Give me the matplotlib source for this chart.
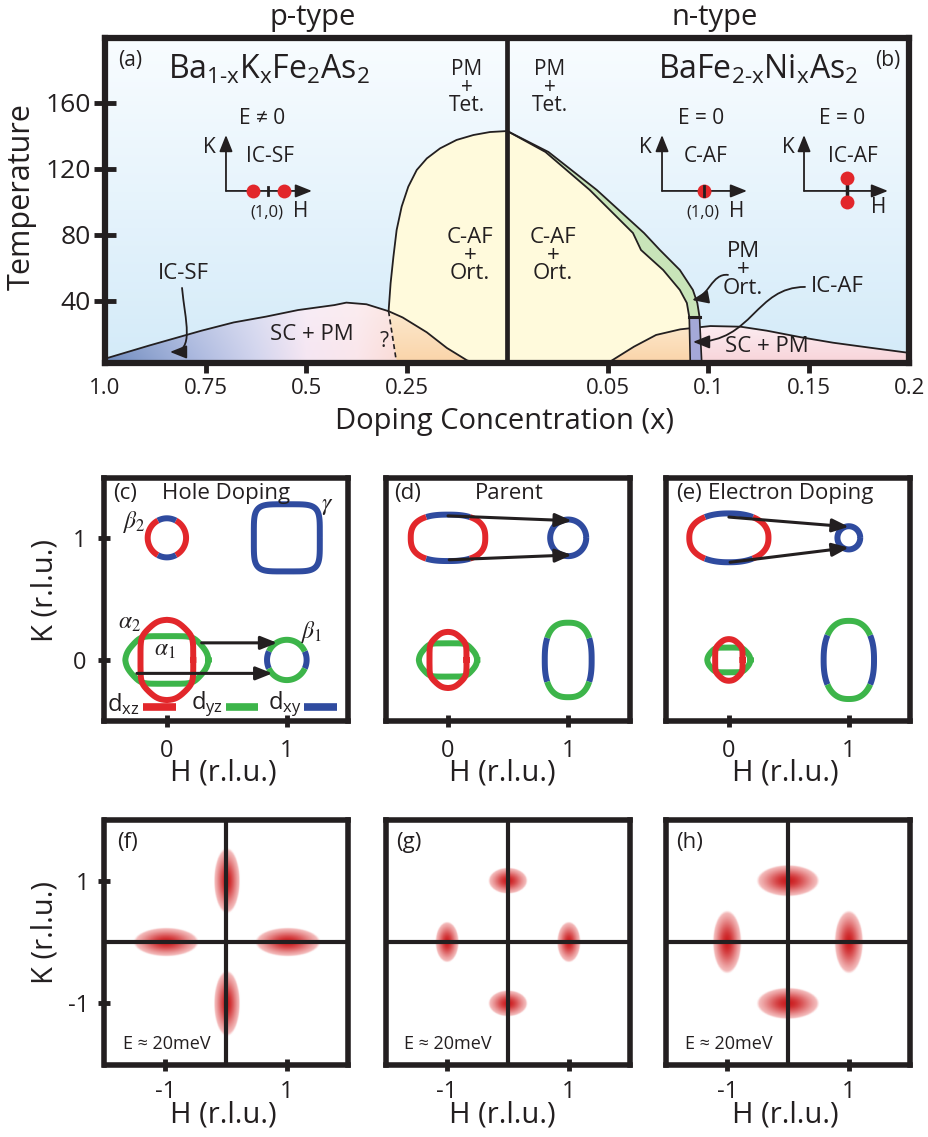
import numpy as np
import matplotlib.pyplot as plt
from matplotlib.patches import Polygon, FancyArrowPatch
from matplotlib.path import Path
from matplotlib.colors import LinearSegmentedColormap

plt.rcParams['font.family'] = ['Open Sans', 'DejaVu Sans']
plt.rcParams['mathtext.fontset'] = 'custom'
plt.rcParams['mathtext.rm'] = 'Open Sans'
plt.rcParams['mathtext.it'] = 'Open Sans:italic'
plt.rcParams['axes.unicode_minus'] = False

# ---------------- phase diagram (doping x, temperature K) ----------------
# Ba(1-x)K(x)Fe2As2 superconducting dome
p_sc_x = [1.0, 0.89, 0.76, 0.68, 0.60, 0.52, 0.43, 0.40, 0.35, 0.295, 0.26, 0.20, 0.15, 0.10, 0.08]
p_sc_T = [5.0, 13.0, 22.0, 27.0, 30.5, 34.5, 37.5, 39.0, 38.0, 33.8, 30.0, 21.0, 11.5, 4.0, 2.4]
# hole side AF / orthorhombic boundary (solid) and its guess below Tc (dashed)
p_af_x = [0.295, 0.290, 0.283, 0.275, 0.2625, 0.246, 0.225, 0.200, 0.167, 0.126, 0.084, 0.043, 0.0]
p_af_T = [33.8, 50.7, 66.8, 83.0, 97.2, 109.3, 119.4, 126.4, 132.5, 137.6, 140.6, 142.4, 143.0]
p_dash_x = [0.295, 0.275]
p_dash_T = [33.8, 2.4]
# BaFe(2-x)Ni(x)As2: TN and Ts lines share temperatures
n_t_T = [143.0, 130.3, 107.3, 81.2, 70.9, 58.8, 46.7, 38.8, 30.3]
n_tn_x = [0.0, 0.019, 0.041, 0.0625, 0.0665, 0.0775, 0.0858, 0.0893, 0.0905]
n_ts_x = [0.0, 0.0205, 0.0445, 0.068, 0.0759, 0.0858, 0.0923, 0.0945, 0.0956]
n_icaf_x = [0.0905, 0.0956, 0.0967, 0.0910]
n_icaf_T = [30.3, 30.3, 2.4, 2.4]
n_sc_x = [0.05, 0.063, 0.074, 0.086, 0.101, 0.116, 0.129, 0.146, 0.162, 0.179, 0.2]
n_sc_T = [2.4, 12.3, 19.4, 22.8, 24.8, 24.4, 22.0, 18.0, 14.7, 11.9, 8.5]

p_ticks = [1.0, 0.75, 0.5, 0.25]
n_ticks = [0.05, 0.1, 0.15, 0.2]
T_ticks = [40, 80, 120, 160]

# ---------------- spin-excitation blobs (H, K, half widths) ----------------
blob_H = [-1, 1, 0, 0]
blob_K = [0, 0, 1, -1]
f_wH = [0.50, 0.50, 0.20, 0.20]
f_wK = [0.22, 0.22, 0.50, 0.50]
g_wH = [0.18, 0.18, 0.30, 0.30]
g_wK = [0.31, 0.31, 0.20, 0.20]
h_wH = [0.22, 0.22, 0.48, 0.48]
h_wK = [0.48, 0.48, 0.24, 0.24]

K = '#231f20'
RED = '#e2272b'
GREEN = '#3db54a'
BLUE = '#2f4b9f'
YELLOW = '#fffadc'
LGREEN = '#c8e4b9'
PURPLE = '#a4a8d8'

W, H = 929, 1137
fig = plt.figure(figsize=(W / 100, H / 100), dpi=100)


def pix_axes(x0, y0, x1, y1):
    return fig.add_axes([x0 / W, 1 - y1 / H, (x1 - x0) / W, (y1 - y0) / H])


def pix_text(x, y, s, **kw):
    kw.setdefault('ha', 'center')
    kw.setdefault('va', 'center')
    return fig.text(x / W, 1 - y / H, s, color=K, **kw)


def p2u(x):
    return 4 * (1 - np.asarray(x, float))


def n2u(x):
    return 4 + 20 * np.asarray(x, float)


def gradient(stops, colors, t):
    colors = np.asarray(colors)
    return np.stack([np.interp(t, stops, colors[:, k]) for k in range(3)], axis=-1)


# ======================= (a)/(b) phase diagram =======================
ax = pix_axes(105, 37.5, 909.5, 363)
T0, T1 = 2.4, 199.7

bg = gradient([0, 1], [(0.83, 0.92, 0.975), (0.975, 0.99, 1.0)], np.linspace(0, 1, 200))[:, None, :]
ax.imshow(bg, extent=(0, 8, T0, T1), origin='lower', aspect='auto', zorder=0)

# AF (yellow) region spanning both sides
yu = np.concatenate([[p2u(0.275)], p2u(p_af_x), n2u(n_tn_x), [n2u(0.091)]])
yT = np.concatenate([[2.4], p_af_T, n_t_T, [2.4]])
ax.fill(yu, yT, color=YELLOW, lw=0, zorder=1)
# structural-only strip (green)
gu = np.concatenate([n2u(n_tn_x), n2u(n_ts_x)[::-1]])
gT = np.concatenate([n_t_T, n_t_T[::-1]])
ax.fill(gu, gT, color=LGREEN, lw=0, zorder=1)

# hole side dome, coloured by region
uu = np.linspace(0, 4, 500)
tt = np.linspace(T0, 40, 120)
U, TT = np.meshgrid(uu, tt)
sc_base = gradient([0, 0.8, 1.5, 2.0, 2.5, 2.9],
                   [(0.43, 0.54, 0.74), (0.64, 0.70, 0.86), (0.82, 0.83, 0.93),
                    (0.96, 0.90, 0.95), (0.98, 0.90, 0.92), (0.98, 0.86, 0.84)], U)
lift = ((TT - T0) / 38.0 * 0.3)[..., None]
sc_col = sc_base * (1 - lift) + lift
orange = gradient([T0, 36], [(0.98, 0.83, 0.66), (0.99, 0.92, 0.82)], TT)
dash_u = np.interp(TT, [2.4, 33.8], [p2u(0.275), p2u(0.295)])
img = np.where((U < dash_u)[..., None], sc_col, orange)
im = ax.imshow(img, extent=(0, 4, T0, 40), origin='lower', aspect='auto', zorder=1.5)
im.set_clip_path(Polygon(np.column_stack([np.r_[0, p2u(p_sc_x)], np.r_[2.4, p_sc_T]]),
                         closed=True, transform=ax.transData))

# electron side dome
uu = np.linspace(4.8, 8, 400)
tt = np.linspace(T0, 27, 100)
U, TT = np.meshgrid(uu, tt)
pink = gradient([T0, 26], [(0.97, 0.83, 0.85), (0.99, 0.93, 0.95)], TT)
orange = gradient([T0, 26], [(0.98, 0.83, 0.66), (0.99, 0.91, 0.80)], TT)
img = np.where((U < n2u(0.093))[..., None], orange, pink)
im = ax.imshow(img, extent=(4.8, 8, T0, 27), origin='lower', aspect='auto', zorder=1.5)
im.set_clip_path(Polygon(np.column_stack([np.r_[n2u(n_sc_x), 8], np.r_[n_sc_T, 2.4]]),
                         closed=True, transform=ax.transData))
ax.plot(n2u(n_sc_x), n_sc_T, color=K, lw=1.3, zorder=1.55)

# incommensurate AF sliver
ax.fill(n2u(n_icaf_x), n_icaf_T, color=PURPLE, lw=0, zorder=1.6)
ax.plot(n2u([n_icaf_x[0], n_icaf_x[3]]), [n_icaf_T[0], n_icaf_T[3]], color=K, lw=1.2, zorder=2)
ax.plot(n2u([n_icaf_x[1], n_icaf_x[2]]), [n_icaf_T[1], n_icaf_T[2]], color=K, lw=1.2, zorder=2)
ax.plot(n2u(n_icaf_x[:2]), n_icaf_T[:2], color=K, lw=2.2, zorder=2)

# phase boundaries
ax.plot(p2u(p_sc_x), p_sc_T, color=K, lw=1.3, zorder=2)
ax.plot(p2u(p_af_x), p_af_T, color=K, lw=1.3, zorder=2)
ax.plot(p2u(p_dash_x), p_dash_T, color=K, lw=1.2, ls=(0, (3, 2)), zorder=2)
ax.plot(n2u(n_tn_x), n_t_T, color=K, lw=1.3, zorder=2)
ax.plot(n2u(n_ts_x), n_t_T, color=K, lw=1.3, zorder=2)
ax.axvline(4, color=K, lw=3.4, zorder=2.5)

ax.set_xlim(0, 8)
ax.set_ylim(T0, T1)
ax.set_xticks(np.r_[p2u(p_ticks), n2u(n_ticks)],
              [str(v) for v in p_ticks] + [str(v) for v in n_ticks])
ax.tick_params(axis='x', direction='out', length=7, width=3.5, pad=4, labelsize=16,
               color=K, labelcolor=K)
for i in (0, 7):
    ax.xaxis.get_major_ticks()[i].tick1line.set_visible(False)
ax.set_yticks(T_ticks)
ax.tick_params(axis='y', direction='inout', length=16, width=3.5, pad=2, labelsize=19,
               color=K, labelcolor=K)
for s in ax.spines.values():
    s.set_linewidth(4.5)
    s.set_color(K)
    s.set_zorder(3)

txt = dict(color=K, ha='center', va='center', zorder=4)
stack = dict(color=K, ha='center', va='center', multialignment='center', linespacing=0.82, zorder=4)
ax.text(0.249, 186, '(a)', fontsize=15, **txt)
ax.text(7.786, 186, '(b)', fontsize=15, **txt)
ax.text(0.627, 175, r'$\mathregular{Ba_{1\text{-}x}K_xFe_2As_2}$', fontsize=23, color=K,
        ha='left', va='baseline')
ax.text(5.499, 175, r'$\mathregular{BaFe_{2\text{-}x}Ni_xAs_2}$', fontsize=23, color=K,
        ha='left', va='baseline')
for u in (3.6, 4.425):
    ax.text(u, 169.5, 'PM\n+\nTet.', fontsize=15, **stack)
for u in (3.63, 4.455):
    ax.text(u, 67.5, 'C-AF\n+\nOrt.', fontsize=16, **stack)
ax.text(6.344, 58.8, 'PM\n+\nOrt.', fontsize=16, **stack)
ax.text(7.279, 48.5, 'IC-AF', fontsize=16, **txt)
ax.text(0.776, 56.4, 'IC-SF', fontsize=16, **txt)
ax.text(2.058, 19.4, 'SC + PM', fontsize=16, **txt)
ax.text(6.583, 12.1, 'SC + PM', fontsize=16, **txt)
ax.text(2.774, 15.2, '?', fontsize=15, **txt)

ARROW = dict(arrowstyle='-|>,head_length=0.5,head_width=0.2', color=K, lw=1.3,
             shrinkA=0, shrinkB=0, mutation_scale=20)


def q_axes(ox, oy, top, right):
    ax.annotate('', xy=(ox, top), xytext=(ox, oy), arrowprops=ARROW, zorder=3)
    ax.annotate('', xy=(right, oy), xytext=(ox, oy), arrowprops=ARROW, zorder=3)


# momentum-space sketches
q_axes(1.203, 106.7, 140.6, 2.058)
ax.text(1.561, 150.3, 'E ≠ 0', fontsize=15, **txt)
ax.text(1.034, 133.3, 'K', fontsize=15, **txt)
ax.text(1.641, 127.3, 'IC-SF', fontsize=15, **txt)
ax.plot([1.621, 1.621], [104.2, 109.2], color=K, lw=2, zorder=4)
ax.plot([1.472, 1.78], [106.7, 106.7], 'o', ms=10, color=RED, mec='none', zorder=4)
ax.text(1.611, 93.9, '(1,0)', fontsize=12, **txt)
ax.text(1.949, 94.5, 'H', fontsize=15, **txt)

q_axes(5.539, 106.7, 140.6, 6.384)
ax.text(5.927, 150.3, 'E = 0', fontsize=15, **txt)
ax.text(5.370, 133.3, 'K', fontsize=15, **txt)
ax.text(5.977, 127.3, 'C-AF', fontsize=15, **txt)
ax.plot([5.957], [106.7], 'o', ms=10, color=RED, mec='none', zorder=4)
ax.plot([5.957, 5.957], [103.7, 109.7], color=K, lw=2, zorder=4)
ax.text(5.947, 93.9, '(1,0)', fontsize=12, **txt)
ax.text(6.285, 94.5, 'H', fontsize=15, **txt)

q_axes(6.951, 106.7, 140.6, 7.786)
ax.text(7.329, 150.3, 'E = 0', fontsize=15, **txt)
ax.text(6.792, 133.3, 'K', fontsize=15, **txt)
ax.text(7.438, 127.3, 'IC-AF', fontsize=15, **txt)
ax.plot([7.379, 7.379], [100, 114.5], color=K, lw=2.5, zorder=4)
ax.plot([7.379, 7.379], [114.5, 100], 'o', ms=10, color=RED, mec='none', zorder=4)
ax.text(7.697, 96.4, 'H', fontsize=15, **txt)


def bent_arrow(pts):
    path = Path(pts, [Path.MOVETO, Path.CURVE4, Path.CURVE4, Path.CURVE4])
    ax.add_patch(FancyArrowPatch(path=path, arrowstyle='-|>,head_length=0.5,head_width=0.2',
                                 mutation_scale=20, lw=1.3, color=K, zorder=3))


bent_arrow([(0.766, 47.9), (0.796, 28.5), (0.895, 9.1), (0.646, 9.1)])
bent_arrow([(6.195, 55.8), (6.036, 57.0), (5.997, 42.4), (5.837, 40.6)])
bent_arrow([(6.961, 48.5), (6.464, 48.5), (6.444, 15.2), (5.847, 15.2)])

pix_text(313, 17, 'p-type', fontsize=21)
pix_text(715, 17, 'n-type', fontsize=21)
pix_text(22, 197, 'Temperature', fontsize=22, rotation=90)
pix_text(505, 422, 'Doping Concentration (x)', fontsize=21)


# ======================= (c)-(e) Fermi surfaces =======================
def superellipse(cx, cy, a, b, n, t):
    c, s = np.cos(t), np.sin(t)
    return cx + a * np.sign(c) * np.abs(c) ** (2 / n), cy + b * np.sign(s) * np.abs(s) ** (2 / n)


def pocket(a_, cx, cy, a, b, n, segs, lw=4.3):
    for t1, t2, col in segs:
        t = np.radians(np.linspace(t1, t2, 90))
        x, y = superellipse(cx, cy, a, b, n, t)
        a_.plot(x, y, color=col, lw=lw, solid_capstyle='butt', zorder=2)


def hole_pocket(a_, hx, hy, diag, col, scale, p=13, lw=4.3):
    phi = np.linspace(0, 2 * np.pi, 721)
    dx, dy = np.cos(phi), np.sin(phi)
    nrm = ((np.abs(dx) / hx) ** p + ((np.abs(dx) + np.abs(dy)) / diag) ** p
           + (np.abs(dy) / hy) ** p) ** (1 / p)
    a_.plot(scale * dx / nrm, scale * dy / nrm, color=col, lw=lw, zorder=2)


def hole_pair(a_, scale):
    hole_pocket(a_, 0.35, 0.195, 0.41, GREEN, scale)
    hole_pocket(a_, 0.22, 0.33, 0.41, RED, scale)


def frame(a_, xlim, ylim, xt, yt):
    a_.set_xlim(*xlim)
    a_.set_ylim(*ylim)
    a_.set_xticks(xt)
    a_.set_yticks(yt)
    a_.tick_params(direction='inout', length=8, width=3.5, labelsize=17, pad=9,
                   color=K, labelcolor=K)
    for s in a_.spines.values():
        s.set_linewidth(4)
        s.set_color(K)
        s.set_zorder(3)


VARROW = dict(arrowstyle='-|>,head_length=0.55,head_width=0.22', color=K, lw=2.2,
              shrinkA=0, shrinkB=0, mutation_scale=18)
ftxt = dict(color=K, va='center', fontsize=16, zorder=4)
greek = dict(color=K, ha='center', va='center', fontsize=17, math_fontfamily='stix', zorder=4)

axc = pix_axes(104.5, 478, 348, 721)
axd = pix_axes(385.5, 478, 629.5, 721)
axe = pix_axes(666.5, 478, 910, 721)
frame(axc, (-0.52, 1.51), (-0.5, 1.49), [0, 1], [0, 1])
frame(axd, (-0.52, 1.51), (-0.5, 1.49), [0, 1], [])
frame(axe, (-0.52, 1.51), (-0.5, 1.49), [0, 1], [])

# hole doping
pocket(axc, 0, 1, 0.16, 0.16, 2, [(-62, 62, RED), (62, 118, BLUE), (118, 242, RED), (242, 298, BLUE)])
pocket(axc, 1, 1, 0.275, 0.275, 5, [(0, 360, BLUE)])
pocket(axc, 1, 0, 0.165, 0.165, 2, [(-25, 25, BLUE), (25, 155, GREEN), (155, 205, BLUE), (205, 335, GREEN)])
hole_pair(axc, 1.0)
axc.annotate('', xy=(0.92, 0.14), xytext=(0.29, 0.14), arrowprops=VARROW)
axc.annotate('', xy=(0.88, -0.11), xytext=(-0.25, -0.11), arrowprops=VARROW)
axc.text(-0.35, 1.366, '(c)', ha='center', **ftxt)
axc.text(-0.04, 1.366, 'Hole Doping', ha='left', **ftxt)
axc.text(-0.267, 1.131, r'$\beta_2$', **greek)
axc.text(1.333, 1.27, r'$\gamma$', **greek)
axc.text(-0.308, 0.303, r'$\alpha_2$', **greek)
axc.text(-0.017, 0.082, r'$\alpha_1$', **greek)
axc.text(1.208, 0.23, r'$\beta_1$', **greek)
for hx, x0, x1, col, lab in [(-0.367, -0.2, 0.075, RED, 'xz'),
                             (0.333, 0.49, 0.76, GREEN, 'yz'),
                             (0.983, 1.14, 1.42, BLUE, 'xy')]:
    axc.text(hx, -0.36, r'$\mathregular{d_{%s}}$' % lab, ha='center', color=K,
             va='center', fontsize=17, zorder=4)
    axc.plot([x0, x1], [-0.385, -0.385], color=col, lw=5.5, solid_capstyle='butt')

# parent
pocket(axd, 0, 1, 0.31, 0.19, 2.6, [(-60, 60, RED), (60, 120, BLUE), (120, 240, RED), (240, 300, BLUE)])
pocket(axd, 1, 1, 0.15, 0.15, 2, [(0, 360, BLUE)])
pocket(axd, 1, 0, 0.195, 0.305, 2.6, [(-30, 30, BLUE), (30, 150, GREEN), (150, 210, BLUE), (210, 330, GREEN)])
hole_pair(axd, 0.7)
axd.annotate('', xy=(1.03, 1.14), xytext=(0.0, 1.18), arrowprops=VARROW)
axd.annotate('', xy=(1.03, 0.86), xytext=(0.01, 0.82), arrowprops=VARROW)
axd.text(-0.34, 1.366, '(d)', ha='center', **ftxt)
axd.text(0.51, 1.366, 'Parent', ha='center', **ftxt)

# electron doping
pocket(axe, 0, 1, 0.33, 0.20, 2.3, [(-56, 56, RED), (56, 124, BLUE), (124, 236, RED), (236, 304, BLUE)])
pocket(axe, 1, 1, 0.095, 0.095, 2, [(0, 360, BLUE)])
pocket(axe, 1, 0, 0.21, 0.32, 2.4, [(-35, 35, BLUE), (35, 145, GREEN), (145, 215, BLUE), (215, 325, GREEN)])
hole_pair(axe, 0.52)
axe.annotate('', xy=(1.0, 1.09), xytext=(0.0, 1.17), arrowprops=VARROW)
axe.annotate('', xy=(1.0, 0.92), xytext=(0.01, 0.80), arrowprops=VARROW)
axe.text(-0.33, 1.366, '(e)', ha='center', **ftxt)
axe.text(-0.17, 1.366, 'Electron Doping', ha='left', **ftxt)

pix_text(45, 590, 'K (r.l.u.)', fontsize=21, rotation=90)
for x in (223, 502, 785):
    pix_text(x, 773, 'H (r.l.u.)', fontsize=21)

# ======================= (f)-(h) spin excitations =======================
blob_cmap = LinearSegmentedColormap.from_list(
    'blob', [(0, (1, 1, 1)), (0.2, (0.97, 0.80, 0.80)), (1, (0.80, 0.12, 0.13))])
gx = np.linspace(-2, 2, 400)
GX, GY = np.meshgrid(gx, gx)


def spots(a_, wH, wK, label):
    inten = np.zeros_like(GX)
    for cx, cy, a, b in zip(blob_H, blob_K, wH, wK):
        r = np.sqrt(((GX - cx) / a) ** 2 + ((GY - cy) / b) ** 2)
        prof = np.exp(-1.3 * r ** 2) * np.clip((1.08 - r) / 0.1, 0, 1)
        inten = np.maximum(inten, prof)
    a_.imshow(inten, extent=(-2, 2, -2, 2), origin='lower', cmap=blob_cmap, vmin=0, vmax=1,
              interpolation='bilinear', aspect='auto', zorder=0)
    a_.axhline(0, color=K, lw=3, zorder=2)
    a_.axvline(0, color=K, lw=3, zorder=2)
    a_.text(-1.62, 1.62, label, ha='center', **ftxt)
    a_.text(-0.98, -1.66, 'E ≈ 20meV', ha='center', color=K, va='center', fontsize=13, zorder=4)


axf = pix_axes(104.5, 819.5, 348, 1064.5)
axg = pix_axes(385.5, 819.5, 629.5, 1064.5)
axh = pix_axes(666.5, 819.5, 910, 1064.5)
spots(axf, f_wH, f_wK, '(f)')
spots(axg, g_wH, g_wK, '(g)')
spots(axh, h_wH, h_wK, '(h)')
frame(axf, (-2, 2), (-2, 2), [-1, 1], [-1, 1])
frame(axg, (-2, 2), (-2, 2), [-1, 1], [])
frame(axh, (-2, 2), (-2, 2), [-1, 1], [])
for a_ in (axf, axg, axh):
    a_.tick_params(pad=7)

pix_text(45, 933, 'K (r.l.u.)', fontsize=21, rotation=90)
for x in (223, 502, 785):
    pix_text(x, 1115, 'H (r.l.u.)', fontsize=21)

fig.savefig('out.png', dpi=100)
